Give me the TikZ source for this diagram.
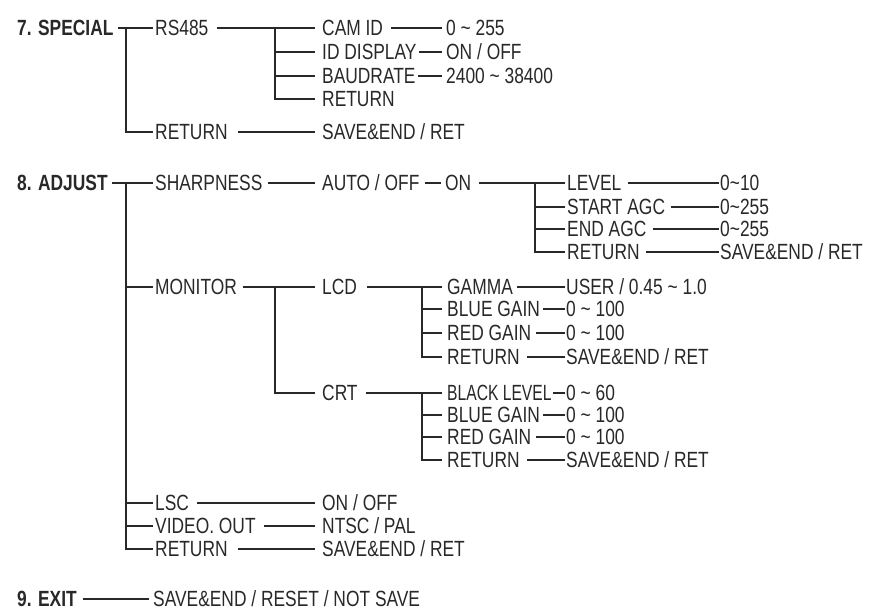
\documentclass[tikz,border=0pt]{standalone}
\usepackage{fontspec}
\usepackage{graphicx}
\setmainfont{Liberation Sans}[FakeStretch=0.79]
\definecolor{ink}{RGB}{40,40,40}
\newcommand{\tl}{\textasciitilde}
\begin{document}
\begin{tikzpicture}[x=1pt,y=-1pt,
  lbl/.style={anchor=west,inner sep=0pt,text height=15.8pt,text depth=0pt,font=\fontsize{22}{22}\selectfont,text=ink},
  ttl/.style={lbl,font=\fontsize{22}{22}\selectfont\bfseries},
  ln/.style={draw=ink,line width=1.1pt}]
\useasboundingbox (0,0) rectangle (869,610);
% ---------- section 7
\node[ttl] (t7) at (17,28) {7. SPECIAL};
\node[lbl] (rs) at (155,28) {RS485};
\node[lbl] (ret7) at (155,132) {RETURN};
\node[lbl] (cam) at (322,28) {CAM ID};
\node[lbl] (idd) at (322,52) {ID DISPLAY};
\node[lbl] (baud) at (322,76) {BAUDRATE};
\node[lbl] (ret7b) at (322,99) {RETURN};
\node[lbl] (sv7) at (322,132) {SAVE\&END / RET};
\node[lbl] (camv) at (446,28) {0 \tl{} 255};
\node[lbl] (iddv) at (446,52) {ON / OFF};
\node[lbl] (baudv) at (446,76) {2400 \tl{} 38400};
\coordinate (j7) at (126,28);
\coordinate (j7b) at (275,28);
\draw[ln] ([xshift=4]t7.east) -- ([xshift=-2]rs.west);
\draw[ln] (j7) |- ([xshift=-2]ret7.west);
\draw[ln] ([xshift=8]rs.east) -- ([xshift=-7]cam.west);
\draw[ln] (j7b) |- ([xshift=-7]ret7b.west);
\draw[ln] (j7b |- idd) -- ([xshift=-7]idd.west);
\draw[ln] (j7b |- baud) -- ([xshift=-7]baud.west);
\draw[ln] ([xshift=8]cam.east) -- ([xshift=-4]camv.west);
\draw[ln] ([xshift=2]idd.east) -- ([xshift=-4]iddv.west);
\draw[ln] ([xshift=2]baud.east) -- ([xshift=-4]baudv.west);
\draw[ln] ([xshift=10]ret7.east) -- ([xshift=-7]sv7.west);
% ---------- section 8
\node[ttl] (t8) at (17,183) {8. ADJUST};
\node[lbl] (shp) at (155,183) {SHARPNESS};
\node[lbl] (mon) at (155,287) {MONITOR};
\node[lbl] (lsc) at (155,503) {LSC};
\node[lbl] (vid) at (155,526) {VIDEO. OUT};
\node[lbl] (ret8) at (155,549) {RETURN};
\node[lbl] (auto) at (322,183) {AUTO / OFF};
\node[lbl] (on) at (445,183) {ON};
\node[lbl] (lev) at (567,183) {LEVEL};
\node[lbl] (sagc) at (567,207) {START AGC};
\node[lbl] (eagc) at (567,229) {END AGC};
\node[lbl] (retS) at (567,252) {RETURN};
\node[lbl] (levv) at (720,183) {0\tl10};
\node[lbl] (sagcv) at (720,207) {0\tl255};
\node[lbl] (eagcv) at (720,229) {0\tl255};
\node[lbl] (retSv) at (720,252) {SAVE\&END / RET};
\node[lbl] (lcd) at (322,287) {LCD};
\node[lbl] (crt) at (322,393) {CRT};
\node[lbl] (gam) at (447,287) {GAMMA};
\node[lbl] (bgl) at (447,309) {BLUE GAIN};
\node[lbl] (rgl) at (447,333) {RED GAIN};
\node[lbl] (retL) at (447,357) {RETURN};
\node[lbl] (gamv) at (566,287) {USER / 0.45 \tl{} 1.0};
\node[lbl] (bglv) at (566,309) {0 \tl{} 100};
\node[lbl] (rglv) at (566,333) {0 \tl{} 100};
\node[lbl] (retLv) at (566,357) {SAVE\&END / RET};
\node[lbl] (blk) at (447,393) {\scalebox{0.9}[1]{BLACK LEVEL}};
\node[lbl] (bgc) at (447,415) {BLUE GAIN};
\node[lbl] (rgc) at (447,437) {RED GAIN};
\node[lbl] (retC) at (447,460) {RETURN};
\node[lbl] (blkv) at (566,393) {0 \tl{} 60};
\node[lbl] (bgcv) at (566,415) {0 \tl{} 100};
\node[lbl] (rgcv) at (566,437) {0 \tl{} 100};
\node[lbl] (retCv) at (566,460) {SAVE\&END / RET};
\node[lbl] (lscv) at (322,503) {ON / OFF};
\node[lbl] (vidv) at (322,526) {NTSC / PAL};
\node[lbl] (sv8) at (322,549) {SAVE\&END / RET};
\coordinate (j8) at (126,183);
\coordinate (jm) at (275,287);
\coordinate (jon) at (535,183);
\coordinate (jl) at (422,287);
\coordinate (jc) at (422,393);
\draw[ln] ([xshift=4]t8.east) -- ([xshift=-2]shp.west);
\draw[ln] (j8) |- ([xshift=-2]ret8.west);
\draw[ln] (j8 |- mon) -- ([xshift=-2]mon.west);
\draw[ln] (j8 |- lsc) -- ([xshift=-2]lsc.west);
\draw[ln] (j8 |- vid) -- ([xshift=-2]vid.west);
\draw[ln] ([xshift=5]shp.east) -- ([xshift=-7]auto.west);
\draw[ln] ([xshift=5]auto.east) -- ([xshift=-4]on.west);
\draw[ln] ([xshift=8]on.east) -- ([xshift=-2]lev.west);
\draw[ln] (jon) |- ([xshift=-2]retS.west);
\draw[ln] (jon |- sagc) -- ([xshift=-2]sagc.west);
\draw[ln] (jon |- eagc) -- ([xshift=-2]eagc.west);
\draw[ln] ([xshift=6]lev.east) -- ([xshift=-1]levv.west);
\draw[ln] ([xshift=6]sagc.east) -- ([xshift=-1]sagcv.west);
\draw[ln] ([xshift=6]eagc.east) -- ([xshift=-1]eagcv.west);
\draw[ln] ([xshift=6]retS.east) -- ([xshift=-1]retSv.west);
\draw[ln] ([xshift=6]mon.east) -- ([xshift=-7]lcd.west);
\draw[ln] (jm) |- ([xshift=-7]crt.west);
\draw[ln] ([xshift=10]lcd.east) -- ([xshift=-5]gam.west);
\draw[ln] (jl) |- ([xshift=-5]retL.west);
\draw[ln] (jl |- bgl) -- ([xshift=-5]bgl.west);
\draw[ln] (jl |- rgl) -- ([xshift=-5]rgl.west);
\draw[ln] ([xshift=4]gam.east) -- ([xshift=-1]gamv.west);
\draw[ln] ([xshift=3]bgl.east) -- ([xshift=-1]bglv.west);
\draw[ln] ([xshift=5]rgl.east) -- ([xshift=-1]rglv.west);
\draw[ln] ([xshift=7]retL.east) -- ([xshift=-1]retLv.west);
\draw[ln] ([xshift=8]crt.east) -- ([xshift=-5]blk.west);
\draw[ln] (jc) |- ([xshift=-5]retC.west);
\draw[ln] (jc |- bgc) -- ([xshift=-5]bgc.west);
\draw[ln] (jc |- rgc) -- ([xshift=-5]rgc.west);
\draw[ln] ([xshift=1]blk.east) -- ([xshift=-1]blkv.west);
\draw[ln] ([xshift=3]bgc.east) -- ([xshift=-1]bgcv.west);
\draw[ln] ([xshift=5]rgc.east) -- ([xshift=-1]rgcv.west);
\draw[ln] ([xshift=7]retC.east) -- ([xshift=-1]retCv.west);
\draw[ln] ([xshift=8]lsc.east) -- ([xshift=-7]lscv.west);
\draw[ln] ([xshift=8]vid.east) -- ([xshift=-7]vidv.west);
\draw[ln] ([xshift=10]ret8.east) -- ([xshift=-7]sv8.west);
% ---------- section 9
\node[ttl] (t9) at (17,599) {9. EXIT};
\node[lbl] (sv9) at (153,599) {SAVE\&END / RESET / NOT SAVE};
\draw[ln] ([xshift=6]t9.east) -- ([xshift=-4]sv9.west);
\end{tikzpicture}
\end{document}
